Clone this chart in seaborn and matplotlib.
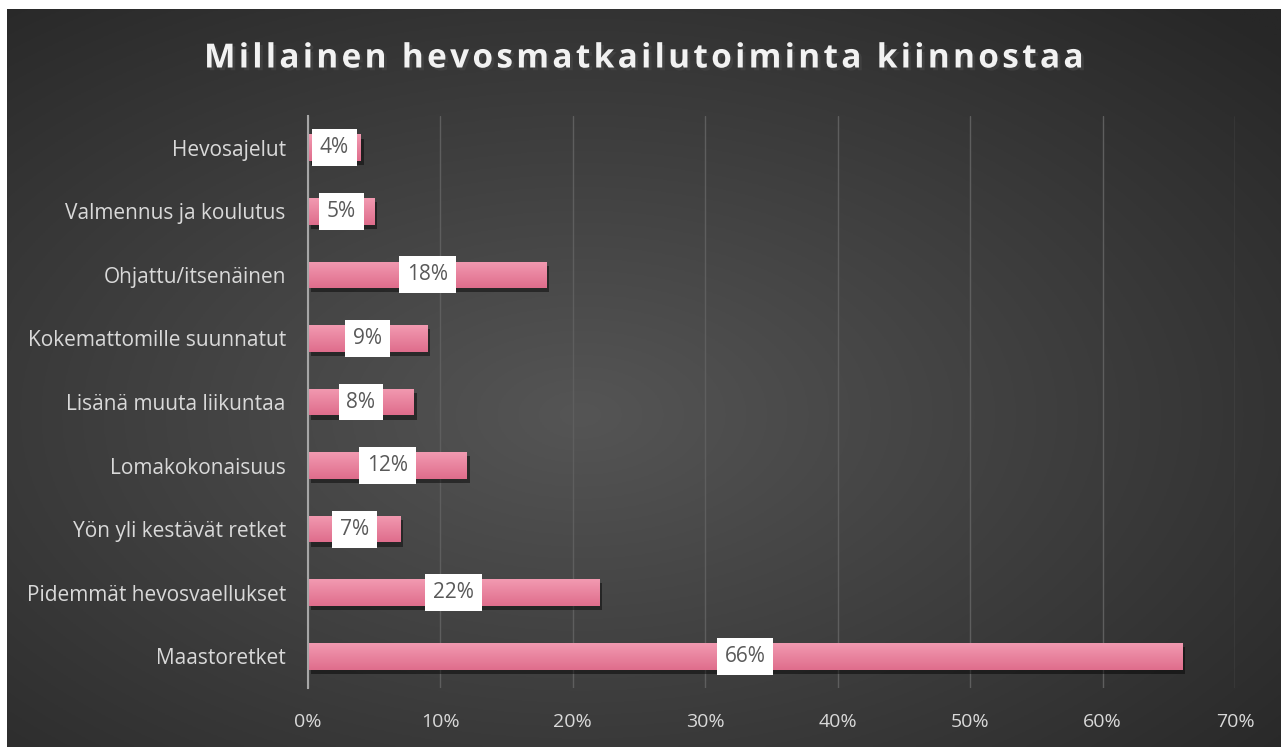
import numpy as np
import pandas as pd
import matplotlib
matplotlib.use("Agg")
import matplotlib.pyplot as plt
import seaborn as sns
import matplotlib.patheffects as pe
from matplotlib.colors import LinearSegmentedColormap

categories = ["Hevosajelut", "Valmennus ja koulutus", "Ohjattu/itsenäinen",
              "Kokemattomille suunnatut", "Lisänä muuta liikuntaa", "Lomakokonaisuus",
              "Yön yli kestävät retket", "Pidemmät hevosvaellukset", "Maastoretket"]
values = [4, 5, 18, 9, 8, 12, 7, 22, 66]
xticks = [0, 10, 20, 30, 40, 50, 60, 70]
xticklabels = ["0%", "10%", "20%", "30%", "40%", "50%", "60%", "70%"]
title = "Millainen hevosmatkailutoiminta kiinnostaa"

df = pd.DataFrame({"cat": categories, "val": values})

sns.set_theme(style="dark")
plt.rcParams['font.family'] = ['Open Sans', 'DejaVu Sans']

W, H = 1282, 747
fig = plt.figure(figsize=(W / 100, H / 100), dpi=100)
fig.patch.set_facecolor("white")

# background with radial gradient
bg = fig.add_axes([7 / W, 0, (1281 - 7) / W, (747 - 9) / H])
yy, xx = np.mgrid[0:1:300j, 0:1:500j]
r = np.sqrt(((xx - 0.45) / 0.75) ** 2 + ((yy - 0.45) / 0.75) ** 2)
r = np.clip(r, 0, 1)
c0 = np.array([0x55, 0x55, 0x55]) / 255
c1 = np.array([0x27, 0x27, 0x27]) / 255
img = c0[None, None, :] * (1 - r[..., None]) + c1[None, None, :] * r[..., None]
bg.imshow(img, aspect="auto", extent=[0, 1, 0, 1], origin="lower")
bg.set_axis_off()

ax = fig.add_axes([308 / W, 1 - 688 / H, (1235 - 308) / W, (688 - 116) / H])
ax.set_facecolor((0, 0, 0, 0))
sns.barplot(data=df, y="cat", x="val", orient="h", color="#E97F9B",
            saturation=1, width=0.42, ax=ax, zorder=3, edgecolor="none", linewidth=0)

cmap = LinearSegmentedColormap.from_list("pinkgrad", ["#F29AB1", "#DF6D8C"])
grad = np.linspace(0, 1, 64).reshape(-1, 1)
for p in list(ax.patches):
    p.set_path_effects([pe.SimplePatchShadow(offset=(2, -3), shadow_rgbFace="black",
                                             alpha=0.45), pe.Normal()])
    x0, y0 = p.get_x(), p.get_y()
    w, h = p.get_width(), p.get_height()
    im = ax.imshow(grad, cmap=cmap, aspect="auto", extent=[x0, x0 + w, y0 + h, y0],
                   origin="upper", zorder=3.5)
    im.set_clip_path(p)

ax.set_xlim(0, 70)
ax.set_ylim(len(categories) - 0.5, -0.5)
ax.set_xticks(xticks)
ax.set_xticklabels(xticklabels, color="#d9d9d9", fontsize=14)
ax.tick_params(axis="x", length=0, pad=18)
ax.tick_params(axis="y", length=0, pad=16, labelcolor="#d9d9d9", labelsize=15)
ax.set_xlabel("")
ax.set_ylabel("")
ax.grid(axis="x", color="#5e5e5e", linewidth=1, zorder=0)
ax.grid(axis="y", visible=False)
for s in ["top", "right", "bottom"]:
    ax.spines[s].set_visible(False)
ax.spines["left"].set_color("#a6a6a6")
ax.spines["left"].set_linewidth(1.5)
ax.spines["left"].set_zorder(4)

for i, v in enumerate(values):
    ax.text(v / 2, i, f"{v}%", ha="center", va="center", color="#595959",
            fontsize=15, zorder=5,
            bbox=dict(boxstyle="square,pad=0.38", facecolor="white", edgecolor="none"))

spaced = "\u200a".join(title)
fig.text(645 / W, 1 - 59 / H, spaced, ha="center", va="center", color="#f2f2f2",
         fontsize=24, fontweight="bold", family=['Open Sans', 'DejaVu Sans'],
         path_effects=[pe.SimplePatchShadow(offset=(2, -2), alpha=0.6), pe.Normal()])

fig.savefig("out.png", dpi=100, facecolor="white")
